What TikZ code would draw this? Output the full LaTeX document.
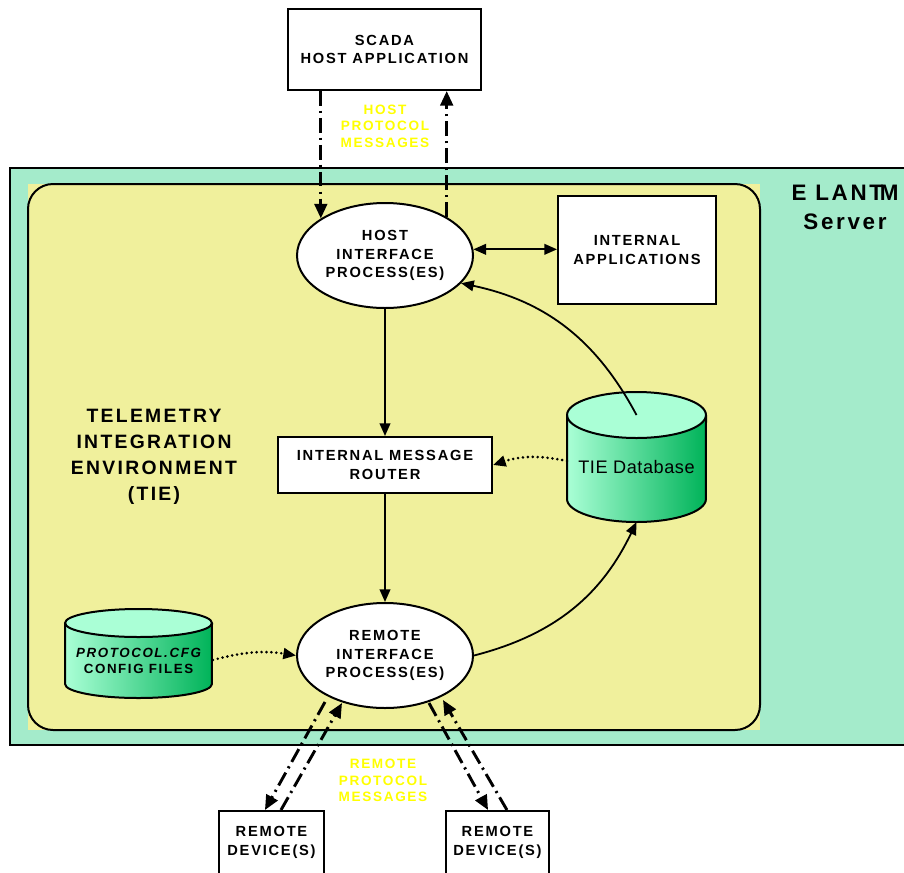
\documentclass[tikz,border=0pt]{standalone}
\usepackage{fontspec}
\setmainfont{Liberation Sans}
\newfontfamily\spaced[LetterSpace=12]{Liberation Sans}
\usetikzlibrary{arrows.meta,shapes.geometric,calc}

\definecolor{serverGreen}{HTML}{A4EBCB}
\definecolor{tieYellow}{HTML}{F0F09C}
\definecolor{cylLight}{HTML}{AAFFD6}
\definecolor{cylDark}{HTML}{00B359}
\definecolor{msgYellow}{HTML}{FFFF00}

\tikzset{
  labelfont/.style={font=\spaced\bfseries\fontsize{11}{13.8}\selectfont},
  box/.style={draw, line width=1.5pt, fill=white, inner sep=0pt, align=center, labelfont},
  proc/.style={ellipse, draw, line width=1.5pt, fill=white, inner sep=0pt,
    minimum width=132pt, minimum height=78.75pt, align=center, labelfont},
  tip/.style={-{Triangle[length=9.5pt,width=8pt]}},
  flow/.style={line width=1.35pt, tip},
  biflow/.style={line width=1.35pt, {Triangle[length=9.5pt,width=8pt]}-{Triangle[length=9.5pt,width=8pt]}},
  dotflow/.style={line width=2.2pt, line cap=round, dash pattern=on 0pt off 3.7pt, tip},
  dashdot/.style={line width=2.2pt, dash pattern=on 11pt off 3.8pt on 1.6pt off 3.8pt,
    -{Triangle[length=11pt,width=9.5pt]}},
  msg/.style={text=msgYellow, align=center, font=\spaced\bfseries\fontsize{10.2}{12.4}\selectfont},
  cylline/.style={line width=1.5pt},
}

\begin{document}
\begin{tikzpicture}[x=0.75pt, y=-0.75pt]
  \useasboundingbox (0,0) rectangle (904,872);
  \clip (0,0) rectangle (904,872);
  \fill[white] (0,0) rectangle (904,872);

  % server area and the integration environment inside it
  \fill[serverGreen] (10,168) rectangle (930,745);
  \draw[line width=1.5pt] (10,168) rectangle (930,745);
  \fill[tieYellow] (28,184) rectangle (760,730);
  \draw[line width=1.5pt, rounded corners=18.75pt] (28,184) rectangle (760,730);

  \node[align=center, font=\spaced\bfseries\fontsize{16.8}{21.75}\selectfont] (server) at (845,207.5)
    {E LAN{T\kern-2.5pt M}\\Server};
  \node[align=center, font=\spaced\bfseries\fontsize{14.5}{19.5}\selectfont] (tie) at (154,457)
    {TELEMETRY\\INTEGRATION\\ENVIRONMENT\\(TIE)};

  % TIE database cylinder
  \shade[left color=cylLight, right color=cylDark]
    (567,415) -- (567,499) arc[start angle=180, end angle=360, x radius=52.1pt, y radius=17.25pt]
    -- (706,415) -- cycle;
  \fill[cylLight] (636.5,415) ellipse[x radius=52.1pt, y radius=17.25pt];
  \draw[cylline] (567,415) -- (567,499) arc[start angle=180, end angle=360, x radius=52.1pt, y radius=17.25pt]
    -- (706,415);
  \draw[cylline] (636.5,415) ellipse[x radius=52.1pt, y radius=17.25pt];
  \node[font=\fontsize{13.6}{16}\selectfont\addfontfeature{LetterSpace=3}] (db) at (636.5,467) {TIE Database};
  \coordinate (dbtop) at (636.5,415);
  \coordinate (dbbot) at (636.5,522);
  \coordinate (dbwest) at (567,461);

  % configuration files cylinder
  \shade[left color=cylLight, right color=cylDark]
    (65,623) -- (65,684) arc[start angle=180, end angle=360, x radius=55.1pt, y radius=10.5pt]
    -- (212,623) -- cycle;
  \fill[cylLight] (138.5,623) ellipse[x radius=55.1pt, y radius=10.5pt];
  \draw[cylline] (65,623) -- (65,684) arc[start angle=180, end angle=360, x radius=55.1pt, y radius=10.5pt]
    -- (212,623);
  \draw[cylline] (138.5,623) ellipse[x radius=55.1pt, y radius=10.5pt];
  \node[align=center, font=\spaced\bfseries\fontsize{10}{12}\selectfont] (cfg) at (138.5,661)
    {\itshape PROTOCOL.CFG\\CONFIG FILES};
  \coordinate (cfgeast) at (213,660);

  % boxes and processes
  \node[box, minimum width=144.75pt, minimum height=60.75pt] (scada) at (384.5,49.5)
    {SCADA\\HOST APPLICATION};
  \node[proc] (host) at (385,255.5) {HOST\\INTERFACE\\PROCESS(ES)};
  \node[box, minimum width=118.5pt, minimum height=81pt] (apps) at (637,250)
    {INTERNAL\\APPLICATIONS};
  \node[box, minimum width=160.5pt, minimum height=42pt] (router) at (385,465)
    {INTERNAL MESSAGE\\ROUTER};
  \node[proc] (remote) at (385,655.5) {REMOTE\\INTERFACE\\PROCESS(ES)};
  \node[box, minimum width=78.75pt, minimum height=47.25pt] (dev1) at (271.5,842.5)
    {REMOTE\\DEVICE(S)};
  \node[box, minimum width=77.25pt, minimum height=47.25pt] (dev2) at (497.5,842.5)
    {REMOTE\\DEVICE(S)};

  \node[msg] (hostmsg) at (385,126) {HOST\\PROTOCOL\\MESSAGES};
  \node[msg] (remmsg) at (383,780.5) {REMOTE\\PROTOCOL\\MESSAGES};

  % host protocol traffic
  \draw[dashdot] (scada.south -| host.150) -- (host.150);
  \draw[dashdot] (host.32) -- (scada.south -| host.32);

  % internal flows
  \draw[biflow] (host.4) -- (apps.west |- host.4);
  \draw[flow] (host.south) -- (router.north);
  \draw[flow] (router.south) -- (remote.north);
  \draw[flow] (dbtop) to[bend right=25] (host.-20);
  \draw[flow] (remote.east) to[bend right=25] (dbbot);
  \draw[dotflow] (dbwest) to[bend right=15] (router.east);
  \draw[dotflow] (cfgeast) to[bend left=12] (remote.west);

  % remote protocol traffic
  \coordinate (rl1) at (325,702);
  \coordinate (rl2) at (342,703);
  \coordinate (rr1) at (429,703);
  \coordinate (rr2) at (443,700);
  \draw[dashdot] (rl1) -- ([xshift=-4.9pt]dev1.north);
  \draw[dashdot] ([xshift=7.1pt]dev1.north) -- (rl2);
  \draw[dashdot] (rr1) -- ([xshift=-7.1pt]dev2.north);
  \draw[dashdot] ([xshift=7.1pt]dev2.north) -- (rr2);
\end{tikzpicture}
\end{document}
